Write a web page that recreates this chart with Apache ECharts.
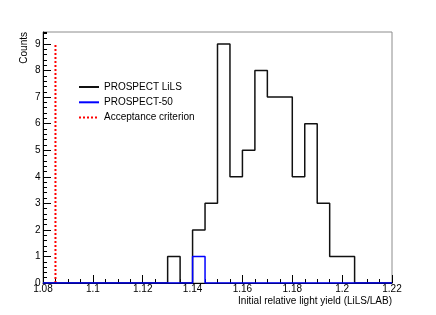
<!DOCTYPE html>
<html>
<head>
<meta charset="utf-8">
<script src="https://cdn.jsdelivr.net/npm/echarts@6/dist/echarts.min.js"></script>
<style>html,body{margin:0;padding:0;background:#fff;}#c{width:436px;height:315px;}</style>
</head>
<body>
<div id="c"></div>
<script>
// Bin lower edges (width 0.005) from 1.080 to 1.215
const binLow = [1.080,1.085,1.090,1.095,1.100,1.105,1.110,1.115,1.120,1.125,1.130,1.135,1.140,1.145,1.150,1.155,1.160,1.165,1.170,1.175,1.180,1.185,1.190,1.195,1.200,1.205,1.210,1.215];
const binHighEnd = 1.220;
const lilsCounts = [0,0,0,0,0,0,0,0,0,0,1,0,2,3,9,4,5,8,7,7,4,6,3,1,1,0,0,0];
const p50Counts  = [0,0,0,0,0,0,0,0,0,0,0,0,1,0,0,0,0,0,0,0,0,0,0,0,0,0,0,0];
const acceptanceX = 1.085;
const acceptanceTop = 9;
const xTicks = [1.08,1.10,1.12,1.14,1.16,1.18,1.20,1.22];
const xTitle = 'Initial relative light yield (LiLS/LAB)';
const yTitle = 'Counts';

function stepData(counts){
  const d = binLow.map((x,i)=>[x,counts[i]]);
  d.push([binHighEnd, counts[counts.length-1]]);
  return d;
}

const FONT = "'Liberation Sans', Arial, Helvetica, sans-serif";
const chart = echarts.init(document.getElementById('c'), null, {renderer:'canvas'});
chart.setOption({
  animation:false,
  backgroundColor:'#fff',
  textStyle:{fontFamily:FONT},
  grid:{left:43, right:44, top:32, bottom:32, show:true, borderColor:'#8c8c8c', borderWidth:1, backgroundColor:'transparent', containLabel:false, outerBoundsMode:'none'},
  legend:{
    orient:'vertical', left:78, top:80, padding:0, itemWidth:20, itemHeight:14, itemGap:1.3,
    itemStyle:{opacity:0},
    textStyle:{fontFamily:FONT, fontSize:10, color:'#000', lineHeight:14},
    data:['PROSPECT LiLS','PROSPECT-50','Acceptance criterion']
  },
  graphic:[
    {type:'text', right:44, top:296, style:{text:xTitle, font:"10px "+FONT, fill:'#000'}}
  ],
  xAxis:{
    type:'value', min:xTicks[0], max:xTicks[xTicks.length-1], interval:0.02,
    axisLine:{show:true, onZero:false, lineStyle:{color:'#000', width:1}},
    axisTick:{show:true, inside:true, length:8, lineStyle:{color:'#000'}},
    minorTick:{show:true, splitNumber:4, length:4, lineStyle:{color:'#000'}},
    axisLabel:{fontFamily:FONT, fontSize:10, color:'#000', margin:1},
    splitLine:{show:false}
  },
  yAxis:[{
    type:'value', min:0, max:9.45, interval:1,
    name:yTitle, nameLocation:'end', nameGap:0, nameRotate:90,
    nameTextStyle:{fontFamily:FONT, fontSize:10, color:'#000', align:'right', verticalAlign:'bottom', padding:[0,0,13.5,0]},
    axisLine:{show:true, onZero:false, lineStyle:{color:'#000', width:1}},
    axisTick:{show:true, inside:true, length:8, lineStyle:{color:'#000'}},
    axisLabel:{fontFamily:FONT, fontSize:10, color:'#000', margin:2.5, showMaxLabel:false},
    splitLine:{show:false}
  },{
    type:'value', min:0, max:9.45, interval:0.2, position:'left',
    axisLine:{show:false},
    axisTick:{show:true, inside:true, length:4, lineStyle:{color:'#000'}},
    axisLabel:{show:false},
    splitLine:{show:false}
  }],
  series:[
    {name:'PROSPECT LiLS', type:'line', step:'end', symbol:'none', data:stepData(lilsCounts),
     lineStyle:{color:'#111', width:1.5}, itemStyle:{color:'#111'}, z:3},
    {name:'PROSPECT-50', type:'line', step:'end', symbol:'none', data:stepData(p50Counts),
     lineStyle:{color:'#0000ff', width:1.5}, itemStyle:{color:'#0000ff'}, z:4},
    {name:'Acceptance criterion', type:'line', symbol:'none', data:[[acceptanceX,0],[acceptanceX,acceptanceTop]],
     lineStyle:{color:'#ff0000', width:2, type:[2,2]}, itemStyle:{color:'#ff0000'}, z:2}
  ]
});
</script>
</body>
</html>
